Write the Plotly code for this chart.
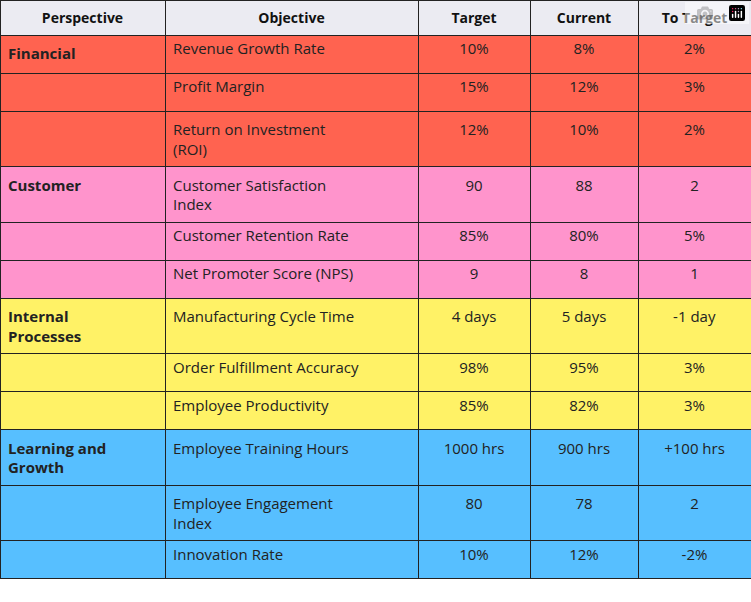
import plotly.graph_objects as go

headers = ["Perspective", "Objective", "Target", "Current", "To Target"]
perspective = ["Financial", "", "", "Customer", "", "", "Internal<br>Processes", "", "",
               "Learning and<br>Growth", "", ""]
objective = ["Revenue Growth Rate", "Profit Margin", "Return on Investment<br>(ROI)",
             "Customer Satisfaction<br>Index", "Customer Retention Rate", "Net Promoter Score (NPS)",
             "Manufacturing Cycle Time", "Order Fulfillment Accuracy", "Employee Productivity",
             "Employee Training Hours", "Employee Engagement<br>Index", "Innovation Rate"]
target = ["10%", "15%", "12%", "90", "85%", "9", "4 days", "98%", "85%", "1000 hrs", "80", "10%"]
current = ["8%", "12%", "10%", "88", "80%", "8", "5 days", "95%", "82%", "900 hrs", "78", "12%"]
to_target = ["2%", "3%", "2%", "2", "5%", "1", "-1 day", "3%", "3%", "+100 hrs", "2", "-2%"]
groups = ["Financial"] * 3 + ["Customer"] * 3 + ["Internal"] * 3 + ["Learning"] * 3

colors = {"Financial": "#FF6350", "Customer": "#FF94CC", "Internal": "#FFF266", "Learning": "#57BFFF"}
row_colors = [colors[g] for g in groups]

cols = [["<b>%s</b>" % p if p else "" for p in perspective], objective, target, current, to_target]
# make every cell in a row have the same number of lines so texts align at the top
nlines = [max(c[i].count("<br>") for c in [perspective, objective]) for i in range(len(objective))]
cols = [[(v if v.count("<br>") >= nlines[i] else v + "<br> " * (nlines[i] - v.count("<br>")))
         for i, v in enumerate(c)] for c in cols]

fig = go.Figure(go.Table(
    columnwidth=[165, 253, 112, 108, 113],
    header=dict(values=["<b>%s</b>" % h for h in headers], fill_color="#EBEBF2",
                line_color="#222222", align="center", height=34,
                font=dict(family="Open Sans", size=14, color="#111111")),
    cells=dict(values=cols,
               fill_color=[row_colors] * 5, line_color="#222222",
               align=["left", "left", "center", "center", "center"], height=38,
               font=dict(family="Open Sans", size=15, color="#222222")),
    domain=dict(x=[0, 1], y=[0, 1]),
))
fig.update_layout(width=751, height=602, margin=dict(l=0, r=0, t=0, b=0),
                  paper_bgcolor="white")
fig.write_html("out.html", post_script="document.body.style.margin='0';")
